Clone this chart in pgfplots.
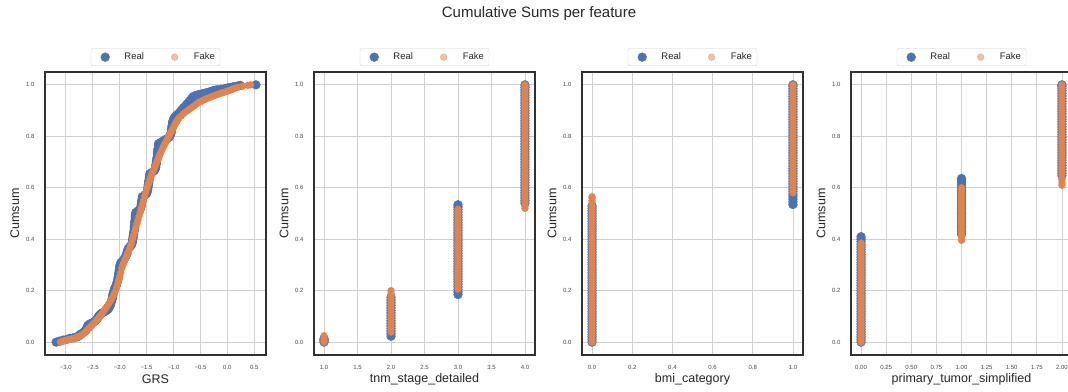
\documentclass[border=0pt]{standalone}
\usepackage{pgfplots}
\pgfplotsset{compat=1.18}
\usepackage{fontspec}
\setmainfont{Liberation Sans}
\definecolor{realc}{HTML}{4C72B0}
\definecolor{fakec}{HTML}{DD8452}
\definecolor{gridc}{HTML}{D0D0D0}
\definecolor{txt}{HTML}{262626}

\pgfplotsset{
 panel/.style={
  scale only axis, width=221pt, height=283pt,
  ymin=-0.05, ymax=1.05,
  ytick={0,0.2,0.4,0.6,0.8,1.0},
  yticklabels={0.0,0.2,0.4,0.6,0.8,1.0},
  grid=major, major grid style={gridc, line width=0.9pt},
  axis line style={txt!95, line width=1.1pt},
  tick style={draw=none},
  ticklabel style={font=\fontsize{6}{7}\selectfont, text=txt!85},
  xticklabel style={yshift=-7pt},
  yticklabel style={xshift=-7pt},
  ylabel={Cumsum},
  every axis y label/.style={at={(axis description cs:-0.136,0.5)}, rotate=90, anchor=center, font=\fontsize{12.5}{14}\selectfont, text=txt},
  every axis x label/.style={at={(axis description cs:0.5,-0.085)}, anchor=center, font=\fontsize{12.5}{14}\selectfont, text=txt},
  legend columns=2,
  legend style={at={(0.5,1.021)}, anchor=south, draw=gridc, rounded corners=2pt,
     font=\fontsize{9.5}{11}\selectfont, text=txt, inner xsep=3pt, inner ysep=2.5pt,
     /tikz/every even column/.append style={column sep=17.5pt}},
  legend image code/.code={\path (0pt,0pt) (28pt,0pt); \draw[#1] plot coordinates {(11pt,0pt)};},
 },
 realp/.style={only marks, mark=*, mark size=4.4pt, color=realc, mark options={draw=none, fill=realc}},
 fakep/.style={only marks, mark=*, mark size=3.4pt, color=fakec, mark options={draw=none, fill=fakec}},
 fakeleg/.style={only marks, mark=*, mark size=3.4pt, color=fakec, opacity=0.5, mark options={draw=none, fill=fakec}},
}

\begin{document}
\begin{tikzpicture}[x=1pt,y=1pt]
\useasboundingbox (0,0) rectangle (1068,391);
\node[font=\fontsize{15}{18}\selectfont, text=txt] at (539,377) {Cumulative Sums per feature};

% Panel 1: GRS
\begin{axis}[panel, at={(45pt,36pt)}, anchor=south west,
  xmin=-3.387, xmax=0.717,
  xtick={-3,-2.5,-2,-1.5,-1,-0.5,0,0.5},
  xticklabels={−3.0,−2.5,−2.0,−1.5,−1.0,−0.5,0.0,0.5},
  xlabel={GRS}]
\addlegendimage{realp}\addlegendentry{Real}
\addlegendimage{fakeleg}\addlegendentry{Fake}
\addplot[realp, forget plot] coordinates {
(-3.18,0)(-3.12,.004)(-3.05,.008)(-2.98,.011)(-2.92,.015)(-2.86,.017)(-2.80,.020)(-2.76,.024)(-2.74,.028)(-2.72,.031)(-2.70,.034)(-2.66,.040)
(-2.63,.045)(-2.62,.050)(-2.61,.055)(-2.60,.060)(-2.59,.065)(-2.56,.070)(-2.52,.074)(-2.48,.078)(-2.45,.083)(-2.43,.088)(-2.41,.093)(-2.40,.098)
(-2.38,.103)(-2.36,.108)(-2.33,.113)(-2.29,.117)(-2.25,.122)(-2.22,.127)(-2.20,.133)
(-2.18,.140)(-2.17,.147)(-2.16,.154)(-2.15,.161)(-2.14,.168)(-2.13,.175)(-2.13,.182)(-2.12,.189)(-2.11,.196)(-2.10,.203)(-2.09,.210)
(-2.07,.217)(-2.06,.224)(-2.05,.231)(-2.04,.238)(-2.03,.245)(-2.03,.252)(-2.02,.259)(-2.02,.266)(-2.01,.273)(-2.01,.280)(-2.00,.287)(-2.00,.294)(-1.99,.301)(-1.98,.308)
(-1.95,.315)(-1.92,.322)(-1.90,.329)(-1.88,.336)(-1.87,.343)(-1.86,.350)(-1.85,.357)(-1.84,.364)(-1.81,.371)(-1.78,.378)
(-1.77,.385)(-1.76,.392)(-1.76,.399)(-1.75,.406)(-1.75,.413)(-1.74,.420)(-1.74,.427)(-1.73,.434)(-1.73,.441)(-1.73,.448)(-1.72,.455)(-1.72,.462)(-1.72,.469)(-1.71,.476)(-1.71,.483)(-1.71,.490)(-1.70,.497)(-1.70,.504)
(-1.66,.510)(-1.62,.516)(-1.61,.523)(-1.60,.530)(-1.60,.537)(-1.59,.544)(-1.59,.551)(-1.58,.558)(-1.58,.565)(-1.54,.571)(-1.50,.577)
(-1.49,.584)(-1.48,.591)(-1.48,.598)(-1.47,.605)(-1.47,.612)(-1.46,.619)(-1.46,.626)(-1.45,.633)(-1.45,.640)(-1.44,.647)(-1.44,.654)(-1.40,.660)(-1.36,.666)
(-1.34,.673)(-1.33,.680)(-1.33,.687)(-1.32,.694)(-1.32,.701)(-1.31,.708)(-1.31,.715)(-1.30,.722)(-1.30,.729)(-1.30,.736)(-1.29,.743)(-1.29,.750)(-1.28,.757)(-1.28,.764)(-1.28,.771)
(-1.24,.776)(-1.20,.781)(-1.16,.786)(-1.12,.791)(-1.08,.797)
(-1.06,.804)(-1.05,.811)(-1.04,.818)(-1.04,.825)(-1.03,.832)(-1.03,.839)(-1.02,.846)(-1.02,.853)(-1.01,.860)(-1.00,.867)(-0.98,.874)(-0.95,.880)(-0.92,.886)(-0.89,.892)(-0.86,.898)
(-0.84,.905)(-0.81,.912)(-0.78,.918)(-0.75,.925)(-0.72,.932)(-0.69,.940)(-0.66,.948)(-0.63,.955)(-0.59,.958)(-0.55,.961)(-0.51,.963)(-0.47,.965)(-0.43,.967)(-0.39,.969)(-0.35,.971)
(-0.31,.974)(-0.27,.977)(-0.23,.979)(-0.19,.981)(-0.12,.983)(-0.04,.986)(0.02,.989)(0.06,.990)(0.10,.992)(0.15,.994)(0.20,.996)(0.24,.998)(0.53,1.000)
};
\addplot[fakep, forget plot] coordinates {
(-3.10,.000)(-3.06,.003)(-3.02,.006)(-2.98,.008)(-2.94,.010)(-2.90,.012)(-2.86,.014)(-2.82,.016)(-2.78,.020)(-2.74,.024)(-2.70,.029)(-2.66,.035)(-2.63,.041)(-2.60,.048)
(-2.57,.054)(-2.54,.060)(-2.51,.066)(-2.48,.073)(-2.45,.080)(-2.42,.087)(-2.39,.095)(-2.36,.103)(-2.33,.111)(-2.30,.120)(-2.27,.129)(-2.24,.138)(-2.21,.147)(-2.18,.157)(-2.15,.168)(-2.12,.180)(-2.09,.194)(-2.06,.210)(-2.04,.224)(-2.02,.240)(-2.00,.255)
(-1.98,.271)(-1.96,.288)(-1.94,.300)(-1.92,.311)(-1.90,.321)(-1.88,.330)(-1.86,.340)(-1.84,.350)(-1.82,.361)(-1.80,.373)(-1.78,.385)(-1.76,.400)(-1.74,.415)(-1.72,.430)(-1.70,.445)(-1.68,.460)(-1.66,.475)(-1.64,.490)(-1.62,.505)(-1.60,.520)(-1.58,.535)(-1.56,.550)(-1.54,.565)(-1.52,.580)(-1.50,.595)(-1.48,.607)(-1.46,.619)(-1.44,.631)(-1.42,.643)(-1.40,.655)(-1.38,.665)(-1.36,.675)(-1.34,.685)(-1.32,.695)(-1.30,.705)
(-1.28,.715)(-1.26,.725)(-1.24,.735)(-1.22,.745)(-1.20,.755)(-1.18,.763)(-1.16,.771)(-1.14,.779)(-1.12,.787)(-1.10,.795)(-1.08,.803)(-1.06,.811)(-1.04,.819)(-1.02,.827)(-1.00,.835)(-0.98,.843)(-0.96,.851)(-0.94,.858)(-0.92,.865)(-0.90,.871)
(-0.86,.879)(-0.82,.887)(-0.78,.894)(-0.74,.900)(-0.70,.906)(-0.66,.912)(-0.62,.918)(-0.58,.924)(-0.54,.930)(-0.50,.935)(-0.46,.939)(-0.42,.943)(-0.38,.947)(-0.34,.950)(-0.30,.954)(-0.26,.957)(-0.22,.960)(-0.18,.963)(-0.14,.966)(-0.10,.969)(-0.06,.971)(-0.02,.974)(0.02,.977)(0.06,.980)(0.10,.983)(0.14,.987)(0.19,.990)(0.28,.995)(0.38,.998)(0.43,1.000)
};
\end{axis}

% Panel 2: tnm_stage_detailed
\begin{axis}[panel, at={(314pt,36pt)}, anchor=south west,
  xmin=0.85, xmax=4.15,
  xtick={1,1.5,2,2.5,3,3.5,4},
  xticklabels={1.0,1.5,2.0,2.5,3.0,3.5,4.0},
  xlabel={tnm\_stage\_detailed}]
\addlegendimage{realp}\addlegendentry{Real}
\addlegendimage{fakeleg}\addlegendentry{Fake}
\addplot[realp, forget plot] coordinates {
(1,0)(1,.005)(1,.010)(1,.013)
(2,.023)(2,.033)(2,.043)(2,.053)(2,.063)(2,.073)(2,.083)(2,.093)(2,.103)(2,.113)(2,.123)(2,.133)(2,.143)(2,.153)(2,.163)(2,.174)
(3,.185)(3,.195)(3,.205)(3,.215)(3,.225)(3,.235)(3,.245)(3,.255)(3,.265)(3,.275)(3,.285)(3,.295)(3,.305)(3,.315)(3,.325)(3,.335)(3,.345)(3,.355)
(3,.365)(3,.375)(3,.385)(3,.395)(3,.405)(3,.415)(3,.425)(3,.435)(3,.445)(3,.455)(3,.465)(3,.475)(3,.485)(3,.495)(3,.505)(3,.515)(3,.525)(3,.534)
(4,.54)(4,.55)(4,.56)(4,.57)(4,.58)(4,.59)(4,.60)(4,.61)(4,.62)(4,.63)(4,.64)(4,.65)(4,.66)(4,.67)(4,.68)(4,.69)(4,.70)(4,.71)(4,.72)(4,.73)(4,.74)(4,.75)(4,.76)(4,.77)
(4,.78)(4,.79)(4,.80)(4,.81)(4,.82)(4,.83)(4,.84)(4,.85)(4,.86)(4,.87)(4,.88)(4,.89)(4,.90)(4,.91)(4,.92)(4,.93)(4,.94)(4,.95)(4,.96)(4,.97)(4,.98)(4,.99)(4,1.00)
};
\addplot[fakep, forget plot] coordinates {
(1,0)(1,.008)(1,.016)(1,.025)
(2,.039)(2,.049)(2,.059)(2,.069)(2,.079)(2,.089)(2,.099)(2,.109)(2,.119)(2,.129)(2,.139)(2,.149)(2,.159)(2,.169)(2,.179)(2,.189)(2,.200)
(3,.206)(3,.216)(3,.226)(3,.236)(3,.246)(3,.256)(3,.266)(3,.276)(3,.286)(3,.296)(3,.306)(3,.316)(3,.326)(3,.336)(3,.346)(3,.356)(3,.366)(3,.376)
(3,.386)(3,.396)(3,.406)(3,.416)(3,.426)(3,.436)(3,.446)(3,.456)(3,.466)(3,.476)(3,.486)(3,.496)(3,.506)(3,.516)
(4,.52)(4,.53)(4,.54)(4,.55)(4,.56)(4,.57)(4,.58)(4,.59)(4,.60)(4,.61)(4,.62)(4,.63)(4,.64)(4,.65)(4,.66)(4,.67)(4,.68)(4,.69)(4,.70)(4,.71)(4,.72)(4,.73)(4,.74)(4,.75)(4,.76)(4,.77)
(4,.78)(4,.79)(4,.80)(4,.81)(4,.82)(4,.83)(4,.84)(4,.85)(4,.86)(4,.87)(4,.88)(4,.89)(4,.90)(4,.91)(4,.92)(4,.93)(4,.94)(4,.95)(4,.96)(4,.97)(4,.98)(4,.99)(4,1.00)
};
\end{axis}

% Panel 3: bmi_category
\begin{axis}[panel, at={(582pt,36pt)}, anchor=south west,
  xmin=-0.05, xmax=1.05,
  xtick={0,0.2,0.4,0.6,0.8,1.0},
  xticklabels={0.0,0.2,0.4,0.6,0.8,1.0},
  xlabel={bmi\_category}]
\addlegendimage{realp}\addlegendentry{Real}
\addlegendimage{fakeleg}\addlegendentry{Fake}
\addplot[realp, forget plot] coordinates {
(0,0)(0,.01)(0,.02)(0,.03)(0,.04)(0,.05)(0,.06)(0,.07)(0,.08)(0,.09)(0,.10)(0,.11)(0,.12)(0,.13)(0,.14)(0,.15)(0,.16)(0,.17)(0,.18)(0,.19)
(0,.20)(0,.21)(0,.22)(0,.23)(0,.24)(0,.25)(0,.26)(0,.27)(0,.28)(0,.29)(0,.30)(0,.31)(0,.32)(0,.33)(0,.34)(0,.35)(0,.36)(0,.37)(0,.38)(0,.39)
(0,.40)(0,.41)(0,.42)(0,.43)(0,.44)(0,.45)(0,.46)(0,.47)(0,.48)(0,.49)(0,.50)(0,.51)(0,.52)(0,.53)
(1,.535)(1,.545)(1,.555)(1,.565)(1,.575)(1,.585)(1,.595)(1,.605)(1,.615)(1,.625)(1,.635)(1,.645)(1,.655)(1,.665)(1,.675)(1,.685)(1,.695)(1,.705)(1,.715)(1,.725)
(1,.735)(1,.745)(1,.755)(1,.765)(1,.775)(1,.785)(1,.795)(1,.805)(1,.815)(1,.825)(1,.835)(1,.845)(1,.855)(1,.865)(1,.875)(1,.885)(1,.895)(1,.905)(1,.915)(1,.925)
(1,.935)(1,.945)(1,.955)(1,.965)(1,.975)(1,.985)(1,.995)(1,1.000)
};
\addplot[fakep, forget plot] coordinates {
(0,0)(0,.01)(0,.02)(0,.03)(0,.04)(0,.05)(0,.06)(0,.07)(0,.08)(0,.09)(0,.10)(0,.11)(0,.12)(0,.13)(0,.14)(0,.15)(0,.16)(0,.17)(0,.18)(0,.19)
(0,.20)(0,.21)(0,.22)(0,.23)(0,.24)(0,.25)(0,.26)(0,.27)(0,.28)(0,.29)(0,.30)(0,.31)(0,.32)(0,.33)(0,.34)(0,.35)(0,.36)(0,.37)(0,.38)(0,.39)
(0,.40)(0,.41)(0,.42)(0,.43)(0,.44)(0,.45)(0,.46)(0,.47)(0,.48)(0,.49)(0,.50)(0,.51)(0,.52)(0,.53)(0,.54)(0,.55)(0,.56)(0,.565)
(1,.58)(1,.59)(1,.60)(1,.61)(1,.62)(1,.63)(1,.64)(1,.65)(1,.66)(1,.67)(1,.68)(1,.69)(1,.70)(1,.71)(1,.72)(1,.73)(1,.74)(1,.75)(1,.76)(1,.77)
(1,.78)(1,.79)(1,.80)(1,.81)(1,.82)(1,.83)(1,.84)(1,.85)(1,.86)(1,.87)(1,.88)(1,.89)(1,.90)(1,.91)(1,.92)(1,.93)(1,.94)(1,.95)(1,.96)(1,.97)(1,.98)(1,.99)(1,1.00)
};
\end{axis}

% Panel 4: primary_tumor_simplified
\begin{axis}[panel, at={(851pt,36pt)}, anchor=south west,
  xmin=-0.1, xmax=2.1,
  xtick={0,0.25,0.5,0.75,1,1.25,1.5,1.75,2},
  xticklabels={0.00,0.25,0.50,0.75,1.00,1.25,1.50,1.75,2.00},
  xlabel={primary\_tumor\_simplified}]
\addlegendimage{realp}\addlegendentry{Real}
\addlegendimage{fakeleg}\addlegendentry{Fake}
\addplot[realp, forget plot] coordinates {
(0,0)(0,.01)(0,.02)(0,.03)(0,.04)(0,.05)(0,.06)(0,.07)(0,.08)(0,.09)(0,.10)(0,.11)(0,.12)(0,.13)(0,.14)(0,.15)(0,.16)(0,.17)(0,.18)(0,.19)
(0,.20)(0,.21)(0,.22)(0,.23)(0,.24)(0,.25)(0,.26)(0,.27)(0,.28)(0,.29)(0,.30)(0,.31)(0,.32)(0,.33)(0,.34)(0,.35)(0,.36)(0,.37)(0,.38)(0,.39)(0,.40)(0,.41)
(1,.42)(1,.43)(1,.44)(1,.45)(1,.46)(1,.47)(1,.48)(1,.49)(1,.50)(1,.51)(1,.52)(1,.53)(1,.54)(1,.55)(1,.56)(1,.57)(1,.58)(1,.59)(1,.60)(1,.61)(1,.62)(1,.63)(1,.636)
(2,.647)(2,.657)(2,.667)(2,.677)(2,.687)(2,.697)(2,.707)(2,.717)(2,.727)(2,.737)(2,.747)(2,.757)(2,.767)(2,.777)(2,.787)(2,.797)(2,.807)(2,.817)
(2,.827)(2,.837)(2,.847)(2,.857)(2,.867)(2,.877)(2,.887)(2,.897)(2,.907)(2,.917)(2,.927)(2,.937)(2,.947)(2,.957)(2,.967)(2,.977)(2,.987)(2,.995)(2,1.000)
};
\addplot[fakep, forget plot] coordinates {
(0,0)(0,.01)(0,.02)(0,.03)(0,.04)(0,.05)(0,.06)(0,.07)(0,.08)(0,.09)(0,.10)(0,.11)(0,.12)(0,.13)(0,.14)(0,.15)(0,.16)(0,.17)(0,.18)(0,.19)
(0,.20)(0,.21)(0,.22)(0,.23)(0,.24)(0,.25)(0,.26)(0,.27)(0,.28)(0,.29)(0,.30)(0,.31)(0,.32)(0,.33)(0,.34)(0,.35)(0,.36)(0,.37)(0,.38)(0,.385)
(1,.396)(1,.406)(1,.416)(1,.426)(1,.436)(1,.446)(1,.456)(1,.466)(1,.476)(1,.486)(1,.496)(1,.506)(1,.516)(1,.526)(1,.536)(1,.546)(1,.556)(1,.566)(1,.576)(1,.586)(1,.594)(1,.600)
(2,.61)(2,.62)(2,.63)(2,.64)(2,.65)(2,.66)(2,.67)(2,.68)(2,.69)(2,.70)(2,.71)(2,.72)(2,.73)(2,.74)(2,.75)(2,.76)(2,.77)(2,.78)(2,.79)(2,.80)
(2,.81)(2,.82)(2,.83)(2,.84)(2,.85)(2,.86)(2,.87)(2,.88)(2,.89)(2,.90)(2,.91)(2,.92)(2,.93)(2,.94)(2,.95)(2,.96)(2,.97)(2,.98)(2,.99)(2,1.00)
};
\end{axis}
\end{tikzpicture}
\end{document}
